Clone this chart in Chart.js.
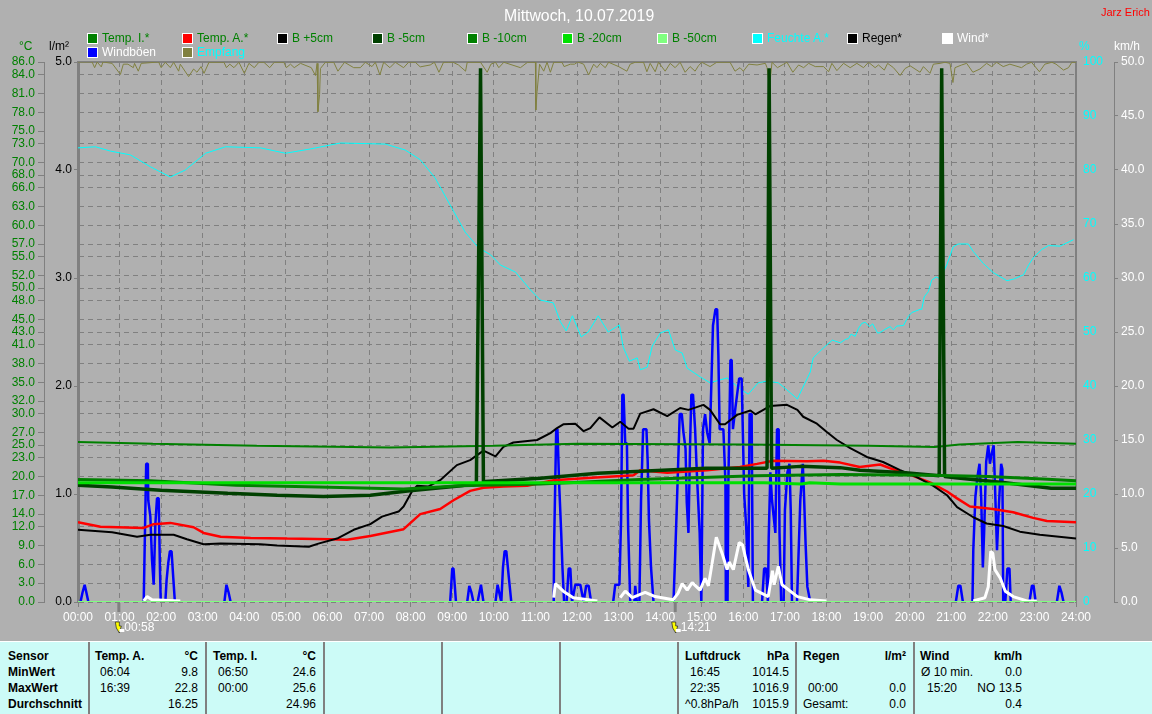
<!DOCTYPE html>
<html>
<head>
<meta charset="utf-8">
<title>Mittwoch, 10.07.2019</title>
<script src="https://cdn.jsdelivr.net/npm/chart.js@4"></script>
<style>
    html, body { margin: 0; padding: 0; width: 1152px; height: 714px; overflow: hidden; background: #b0b0b0; }
    body { font-family: "Liberation Sans", Arial, sans-serif; font-size: 12px; position: relative; }
    #myChart { position: absolute; left: 0; top: 0; }
    .txt { position: absolute; white-space: nowrap; line-height: 14px; }
    .box { position: absolute; width: 9px; height: 9px; border: 1px solid #fff; }
    #panel { position: absolute; left: 0; top: 641px; width: 1152px; height: 73px; background: #ccfbf7; border-top: 1px solid #fff; box-sizing: border-box; }
    #panel .sep { position: absolute; top: 0; width: 2px; height: 73px; background: #808080; }
    #panel .txt { color: #000; }
    #panel .r { transform: translateX(-100%); }
</style>
</head>
<body>
<canvas id="myChart" width="1152" height="642"></canvas>
<div id="panel"></div>
<script>
// axis labels
const celsiusTicks = [86, 84, 81, 78, 75, 73, 70, 68, 66, 63, 60, 57, 55, 52, 50, 48, 45, 43, 41, 38, 35, 32, 30, 27, 25, 23, 20, 17, 14, 12, 9, 6, 3, 0];
const sunTimes = [0.97, 14.35];
const sunLabels = ['00:58', '14:21'];

// legend
const legendNames = ['Temp. I.*', 'Temp. A.*', 'B +5cm', 'B -5cm', 'B -10cm', 'B -20cm', 'B -50cm', 'Feuchte A.*', 'Regen*', 'Wind*', 'Windböen', 'Empfang'];
const legendColors = ['#008000', '#ff0000', '#000000', '#004000', '#008000', '#00e000', '#80ff80', '#00ffff', '#000000', '#ffffff', '#0000ff', '#808040'];
const legendText = ['#008000', '#008000', '#008000', '#008000', '#008000', '#008000', '#008000', '#00ffff', '#000000', '#ffffff', '#ffffff', '#00ffff'];

// Temp. I. in degrees
const tempInT = [0, 1.8, 4.3, 7.5, 10, 12, 16, 19, 20.6, 21.2, 22.6, 24];
const tempInV = [25.5, 25.2, 24.9, 24.6, 24.9, 25.2, 25.1, 24.9, 24.7, 25.1, 25.5, 25.2];

// Temp. A. in degrees
const tempOutT = [0, 0.54, 1.58, 1.82, 2.22, 2.78, 3.02, 3.43, 4.15, 5.03, 6.07, 6.47, 7.03, 7.83, 8.23, 8.71, 9.03, 9.43, 9.75, 10.23, 10.8, 11.44, 12.16, 13.36, 13.52, 14.17, 15.12, 15.92, 16.33, 16.72, 17.53, 17.93, 18.33, 18.8, 19.29, 19.53, 20.08, 20.5, 20.9, 21.14, 21.45, 22.0, 22.49, 22.97, 23.3, 24];
const tempOutV = [12.7, 12.0, 11.8, 12.4, 12.6, 11.9, 11.0, 10.4, 10.2, 10.1, 10.0, 9.9, 10.5, 11.6, 14.0, 14.8, 16.2, 17.7, 18.2, 18.4, 18.5, 19.4, 19.7, 20.2, 21.0, 20.6, 21.0, 21.5, 22.0, 22.5, 22.4, 22.5, 22.2, 21.5, 21.9, 21.3, 20.1, 19.0, 17.6, 16.5, 15.2, 14.8, 14.3, 13.4, 12.9, 12.7];

// B +5cm
const soil5T = [0, 0.82, 1.42, 1.74, 2.3, 2.62, 3.02, 3.43, 4.39, 4.79, 5.55, 5.78, 6.23, 6.63, 7.03, 7.31, 7.71, 7.83, 8.03, 8.15, 8.43, 8.71, 9.11, 9.43, 9.75, 10.04, 10.23, 10.47, 11.04, 11.36, 11.52, 11.67, 11.96, 12.16, 12.32, 12.54, 12.85, 13.04, 13.24, 13.36, 13.52, 13.84, 14.17, 14.48, 14.68, 15.04, 15.2, 15.44, 15.56, 15.85, 16.17, 16.29, 16.64, 17.05, 17.3, 17.44, 17.77, 18.0, 18.25, 18.57, 18.97, 19.36, 19.77, 20.17, 20.57, 20.9, 21.14, 21.53, 21.85, 22.25, 22.65, 23.13, 24];
const soil5V = [11.5, 11.1, 10.4, 10.7, 10.7, 10.0, 9.2, 9.3, 9.2, 9.0, 8.8, 9.3, 10.1, 11.5, 12.4, 13.6, 14.4, 15.2, 17.6, 18.5, 18.4, 19.4, 21.8, 22.6, 24.1, 23.2, 24.7, 25.4, 25.8, 26.9, 27.7, 28.3, 28.4, 27.2, 27.7, 29.4, 27.8, 28.7, 27.6, 27.6, 30.0, 30.7, 29.6, 30.9, 30.6, 31.4, 30.6, 28.3, 28.3, 29.8, 30.5, 29.9, 31.2, 31.4, 30.6, 29.5, 28.4, 27.1, 25.8, 24.5, 23.1, 22.3, 21.0, 19.9, 18.5, 17.0, 15.1, 13.5, 12.5, 12.1, 11.2, 10.7, 10.1];

// B -5cm, with the three sensor spikes
const soilM5T = [0, 0.82, 1.99, 3.6, 4.79, 5.9, 7.03, 7.98, 9.22, 9.58, 9.68, 9.75, 9.8, 11.12, 12.5, 15.1, 16.57, 16.62, 16.68, 17.37, 18.33, 18.8, 19.9, 20.71, 20.77, 20.84, 21.1, 22.3, 23.4, 24];
const soilM5V = [18.6, 18.3, 17.8, 17.3, 17.0, 16.8, 17.0, 17.7, 18.5, 18.9, 85.0, 19.0, 19.2, 19.7, 20.5, 21.3, 21.3, 85.0, 21.3, 21.6, 21.4, 21.0, 20.6, 20.1, 85.0, 20.0, 19.8, 19.0, 18.1, 18.1];

// B -10cm, B -20cm
const soilM10T = [0, 1.74, 3.8, 5.8, 7.83, 9.2, 11.12, 13.5, 16.3, 18.33, 20.5, 21.9, 23.2, 24];
const soilM10V = [19.5, 19.3, 18.6, 18.3, 18.0, 18.5, 18.8, 19.5, 20.1, 20.3, 20.2, 20.0, 19.6, 19.3];
const soilM20T = [0, 11.12, 16.5, 17.4, 17.6, 18.33, 24];
const soilM20V = [19.0, 19.0, 19.0, 18.8, 19.0, 18.8, 18.8];

// B -50cm and Regen stay on the zero line
const flatT = [0, 24];
const soilM50V = [0, 0];
const rainV = [0, 0];

// Feuchte A. in percent
const humidityT = [0, 0.42, 0.78, 1.26, 1.74, 2.22, 2.58, 3.07, 3.55, 4.39, 4.99, 5.59, 6.31, 7.39, 7.87, 8.23, 8.59, 8.95, 9.31, 9.63, 9.92, 10.16, 10.52, 10.88, 11.12, 11.43, 11.6, 11.74, 11.89, 12.1, 12.27, 12.51, 12.75, 13.02, 13.11, 13.26, 13.45, 13.52, 13.69, 13.81, 14.0, 14.2, 14.36, 14.53, 14.65, 14.96, 15.2, 15.61, 15.93, 16.12, 16.36, 16.58, 16.84, 17.0, 17.3, 17.61, 17.68, 17.92, 18.14, 18.33, 18.45, 18.53, 18.59, 18.69, 18.77, 18.85, 18.93, 19.03, 19.11, 19.23, 19.29, 19.41, 19.53, 19.61, 19.69, 19.85, 19.97, 20.05, 20.25, 20.29, 20.35, 20.45, 20.53, 20.64, 20.73, 20.89, 21.05, 21.17, 21.41, 21.53, 21.77, 22.01, 22.34, 22.5, 22.74, 22.86, 22.98, 23.18, 23.34, 23.62, 23.78, 23.94];
const humidityV = [84.1, 84.3, 83.5, 82.8, 80.6, 78.7, 80.0, 83.1, 84.3, 84.1, 83.1, 83.9, 85.0, 84.8, 83.7, 81.9, 78.5, 73.5, 68.5, 65.6, 64.3, 62.4, 61.1, 57.8, 55.9, 55.4, 51.9, 50.2, 53.0, 49.1, 50.0, 53.0, 50.0, 51.3, 47.2, 44.6, 45.2, 43.0, 43.5, 47.4, 49.8, 50.4, 46.7, 46.1, 43.3, 41.7, 40.6, 41.5, 39.4, 38.5, 40.6, 40.9, 40.6, 39.6, 37.6, 42.6, 45.2, 47.0, 48.5, 48.0, 48.6, 48.8, 49.6, 49.2, 50.7, 51.6, 51.8, 51.0, 51.5, 49.8, 49.9, 50.5, 51.0, 50.4, 51.1, 51.2, 52.9, 53.6, 54.2, 54.2, 56.5, 57.5, 59.6, 60.2, 59.8, 62.4, 65.8, 66.3, 66.3, 64.9, 62.7, 61.0, 59.5, 59.8, 60.6, 62.4, 63.8, 65.3, 66.0, 65.9, 66.5, 67.1];

// Wind, gaps where the sensor reports nothing
const windT = [1.58, 1.66, 1.78, 2.46, 2.47, 11.44, 11.48, 11.67, 11.91, 12.49, 12.5, 13.04, 13.16, 13.33, 13.64, 13.88, 14.31, 14.43, 14.53, 14.65, 14.77, 14.96, 15.08, 15.16, 15.25, 15.35, 15.49, 15.61, 15.66, 15.76, 15.9, 15.98, 16.12, 16.29, 16.6, 16.7, 16.74, 16.84, 16.93, 17.3, 17.61, 18.0, 18.01, 21.53, 21.81, 21.89, 21.95, 22.0, 22.05, 22.18, 22.3, 22.49, 22.82, 23.06];
const windV = [0.1, 0.5, 0.2, 0.1, null, 0.4, 1.7, 1.0, 0.4, 0.1, null, 0.4, 1.0, 0.4, 0.9, 0.5, 0.2, 0.8, 1.7, 1.1, 1.8, 1.1, 2.2, 1.5, 3.6, 6.0, 4.5, 3.0, 3.7, 3.0, 5.5, 5.3, 3.0, 1.1, 0.5, 2.9, 1.6, 3.3, 1.6, 0.5, 0.2, 0.1, null, 0.1, 0.4, 1.4, 4.7, 4.5, 3.0, 2.2, 1.0, 0.5, 0.1, 0.1];

// Windböen
const gustT = [0.06, 0.11, 0.16, 0.20, 0.25, 1.58, 1.60, 1.64, 1.68, 1.69, 1.74, 1.78, 1.82, 1.86, 1.90, 1.94, 1.97, 1.99, 2.10, 2.13, 2.17, 2.21, 2.25, 2.29, 2.33, 3.52, 3.57, 3.62, 3.67, 8.95, 9.0, 9.03, 9.09, 9.36, 9.41, 9.46, 9.51, 9.61, 9.69, 9.75, 10.04, 10.09, 10.14, 10.18, 10.22, 10.26, 10.30, 10.36, 10.42, 11.44, 11.45, 11.50, 11.53, 11.57, 11.62, 11.65, 11.69, 11.75, 11.80, 11.84, 11.88, 11.96, 12.08, 12.16, 12.22, 12.28, 12.34, 12.87, 12.92, 13.02, 13.06, 13.09, 13.12, 13.16, 13.20, 13.23, 13.28, 13.38, 13.40, 13.44, 13.50, 13.54, 13.59, 13.67, 13.70, 13.73, 13.78, 13.84, 14.32, 14.36, 14.40, 14.47, 14.52, 14.56, 14.61, 14.64, 14.68, 14.72, 14.75, 14.79, 14.84, 14.88, 14.95, 14.99, 15.03, 15.08, 15.13, 15.19, 15.23, 15.27, 15.33, 15.37, 15.40, 15.43, 15.52, 15.57, 15.58, 15.62, 15.64, 15.69, 15.72, 15.75, 15.81, 15.85, 15.90, 15.96, 15.99, 16.02, 16.07, 16.12, 16.15, 16.20, 16.23, 16.26, 16.45, 16.50, 16.55, 16.59, 16.61, 16.65, 16.69, 16.73, 16.77, 16.81, 16.85, 16.87, 16.91, 16.97, 17.0, 17.06, 17.11, 17.14, 17.17, 17.29, 17.37, 17.43, 17.46, 17.50, 17.54, 17.61, 21.11, 21.17, 21.22, 21.28, 21.51, 21.53, 21.58, 21.63, 21.68, 21.72, 21.76, 21.79, 21.84, 21.89, 21.93, 21.97, 22.02, 22.05, 22.10, 22.15, 22.20, 22.23, 22.25, 22.30, 22.35, 22.40, 22.43, 22.88, 22.94, 22.98, 23.03, 23.54, 23.60, 23.65, 23.70];
const gustV = [0, 0.9, 1.6, 0.9, 0, 0, 4.3, 12.8, 12.8, 9.4, 7.9, 3.9, 1.6, 7.2, 9.6, 9.6, 3.2, 0, 0, 2.0, 3.6, 4.7, 4.7, 2.3, 0, 0, 1.6, 0.9, 0, 0, 3.1, 3.1, 0, 0, 1.5, 0.9, 0, 0, 1.6, 0, 0, 1.6, 0.7, 0, 3.2, 4.7, 4.7, 2.3, 0, 0, 5.4, 16.0, 16.0, 11.0, 6.4, 3.2, 0, 0, 3.1, 3.1, 0, 1.6, 1.6, 0, 1.5, 1.5, 0, 0, 1.6, 1.6, 7.6, 19.2, 19.2, 14.7, 14.7, 6.9, 0, 0, 1.5, 0, 0, 9.4, 16.0, 16.0, 13.0, 7.6, 3.2, 0, 0, 4.2, 8.8, 17.4, 17.4, 15.7, 14.2, 9.2, 6.4, 14.7, 19.2, 19.2, 16.0, 12.1, 6.4, 0, 16.0, 17.4, 15.7, 14.7, 20.0, 25.6, 27.1, 27.1, 22.8, 16.0, 16.0, 11.0, 0, 0, 11.0, 22.4, 22.4, 16.0, 18.0, 19.2, 20.7, 20.7, 15.5, 10.0, 6.9, 1.4, 17.4, 17.4, 0, 0, 0, 3.1, 3.1, 0, 5.9, 12.0, 9.4, 7.9, 6.4, 16.0, 16.0, 6.4, 0, 0, 8.5, 12.0, 12.8, 8.5, 0, 0, 9.4, 12.8, 9.8, 5.1, 1.4, 0, 0, 1.5, 1.5, 0, 0, 4.8, 9.7, 11.6, 12.8, 9.7, 3.2, 6.4, 13.0, 14.5, 12.8, 13.7, 14.5, 11.0, 4.8, 9.3, 12.8, 12.3, 0, 0, 3.1, 3.1, 0, 0, 1.5, 1.5, 0, 0, 1.5, 0.9, 0];

// Empfang in percent
const signalT = [0, 0.34, 0.40, 0.46, 0.56, 0.60, 0.82, 1.02, 1.09, 1.20, 1.33, 1.36, 1.45, 1.52, 1.94, 2.0, 2.10, 2.22, 2.30, 2.42, 2.46, 2.66, 2.78, 2.86, 2.96, 3.03, 3.15, 3.51, 3.57, 3.65, 3.75, 3.87, 4.0, 4.11, 4.24, 4.35, 4.47, 4.61, 4.72, 4.95, 5.01, 5.11, 5.20, 5.35, 5.61, 5.71, 5.75, 5.77, 5.81, 5.83, 5.95, 6.15, 6.25, 6.41, 6.63, 6.79, 6.91, 7.07, 7.15, 7.26, 7.35, 7.50, 7.63, 7.83, 7.95, 8.11, 8.23, 8.47, 8.57, 8.68, 8.79, 8.91, 9.02, 9.15, 9.32, 9.36, 9.68, 9.84, 9.93, 10.04, 10.12, 10.24, 10.64, 10.81, 11.0, 11.01, 11.04, 11.10, 11.20, 11.28, 11.36, 11.44, 11.64, 11.69, 11.84, 11.94, 12.02, 12.16, 12.28, 12.40, 12.48, 12.56, 12.68, 12.76, 13.0, 13.20, 13.28, 13.40, 13.60, 13.68, 13.76, 13.88, 13.96, 14.12, 14.24, 14.36, 14.48, 14.60, 14.72, 14.84, 14.92, 15.0, 15.20, 15.36, 15.68, 15.80, 15.92, 16.0, 16.13, 16.33, 16.53, 16.57, 16.63, 16.69, 16.82, 16.97, 17.05, 17.19, 17.33, 17.45, 17.57, 17.73, 17.93, 18.05, 18.13, 18.25, 18.41, 18.57, 18.73, 18.89, 19.01, 19.17, 19.25, 19.39, 19.47, 19.61, 19.77, 19.89, 20.01, 20.25, 20.33, 20.49, 20.57, 20.73, 20.85, 20.97, 21.04, 21.09, 21.25, 21.37, 21.52, 21.69, 21.85, 21.97, 22.09, 22.25, 22.41, 22.69, 22.81, 22.93, 23.12, 23.25, 23.42, 23.52, 23.70, 23.82, 23.90, 24];
const signalV = [100, 100, 98.95, 100, 99.1, 100, 99.75, 97.7, 99.6, 99.6, 98.95, 99.75, 98.3, 99.75, 100, 98.95, 99.95, 98.95, 99.95, 98.3, 99.6, 97.3, 98.7, 98.1, 99.15, 97.9, 99.95, 99.95, 98.95, 99.6, 98.95, 99.95, 97.9, 99.75, 98.95, 99.95, 99.95, 98.95, 99.95, 99.95, 98.95, 99.6, 98.95, 99.75, 98.95, 97.5, 99.75, 90.8, 94.0, 98.8, 99.95, 99.95, 98.3, 99.95, 98.95, 98.95, 99.95, 99.15, 99.95, 97.6, 99.95, 98.95, 99.95, 98.95, 99.95, 99.95, 99.1, 99.45, 99.95, 98.1, 99.95, 99.95, 99.95, 99.45, 98.3, 99.95, 99.95, 98.1, 99.6, 99.95, 98.95, 99.95, 98.95, 99.95, 99.95, 91.1, 94.5, 99.6, 98.3, 99.95, 98.1, 99.95, 99.95, 99.15, 99.6, 99.6, 100, 99.6, 97.6, 99.6, 98.95, 99.75, 98.95, 99.95, 99.15, 98.3, 99.6, 99.95, 99.95, 98.2, 99.75, 98.2, 99.95, 98.3, 99.75, 98.95, 99.95, 98.1, 99.15, 98.3, 99.3, 99.95, 99.15, 99.95, 99.95, 98.3, 98.95, 98.3, 99.6, 99.45, 99.75, 98.95, 95.4, 99.95, 98.95, 99.6, 99.95, 98.1, 99.45, 98.95, 99.75, 99.15, 99.15, 98.2, 99.75, 98.4, 99.75, 98.95, 99.75, 98.95, 99.95, 98.95, 99.45, 98.5, 99.75, 98.95, 97.5, 98.8, 99.3, 98.1, 99.15, 97.9, 99.6, 99.75, 99.95, 99.75, 96.2, 98.95, 99.45, 99.75, 98.1, 98.7, 99.75, 99.15, 99.95, 99.15, 99.6, 98.95, 99.6, 99.95, 98.2, 99.6, 99.95, 99.6, 98.5, 98.95, 99.95, 99.95];

// bottom table: x of column, text, bold, right aligned
const sepX = [88, 205, 323, 441, 559, 677, 795, 913];
const rowY = [649, 665, 681, 697];
const tableCells = [
    [8, 0, 'Sensor', 1, 0], [8, 1, 'MinWert', 1, 0], [8, 2, 'MaxWert', 1, 0], [8, 3, 'Durchschnitt', 1, 0],
    [95, 0, 'Temp. A.', 1, 0], [198, 0, '°C', 1, 1], [100, 1, '06:04', 0, 0], [198, 1, '9.8', 0, 1], [100, 2, '16:39', 0, 0], [198, 2, '22.8', 0, 1], [198, 3, '16.25', 0, 1],
    [213, 0, 'Temp. I.', 1, 0], [316, 0, '°C', 1, 1], [218, 1, '06:50', 0, 0], [316, 1, '24.6', 0, 1], [218, 2, '00:00', 0, 0], [316, 2, '25.6', 0, 1], [316, 3, '24.96', 0, 1],
    [685, 0, 'Luftdruck', 1, 0], [789, 0, 'hPa', 1, 1], [690, 1, '16:45', 0, 0], [789, 1, '1014.5', 0, 1], [690, 2, '22:35', 0, 0], [789, 2, '1016.9', 0, 1], [685, 3, '^0.8hPa/h', 0, 0], [789, 3, '1015.9', 0, 1],
    [803, 0, 'Regen', 1, 0], [906, 0, 'l/m²', 1, 1], [808, 2, '00:00', 0, 0], [906, 2, '0.0', 0, 1], [803, 3, 'Gesamt:', 0, 0], [906, 3, '0.0', 0, 1],
    [920, 0, 'Wind', 1, 0], [1022, 0, 'km/h', 1, 1], [921, 1, 'Ø 10 min.', 0, 0], [1022, 1, '0.0', 0, 1], [927, 2, '15:20', 0, 0], [1022, 2, 'NO 13.5', 0, 1], [1022, 3, '0.4', 0, 1]
];

function addText(parent, x, y, text, color, extra) {
    const el = document.createElement('div');
    el.className = 'txt';
    el.style.left = x + 'px';
    el.style.top = y + 'px';
    if (color) el.style.color = color;
    el.textContent = text;
    if (extra) el.style.cssText += extra;
    parent.appendChild(el);
    return el;
}

// heading and axis units
addText(document.body, 504, 7, 'Mittwoch, 10.07.2019', '#ffffff', 'font-size:15.8px;line-height:18px;');
addText(document.body, 1101, 5, 'Jarz Erich', '#ff0000', 'font-size:11px;');
addText(document.body, 19, 39, '°C', '#008000');
addText(document.body, 49, 39, 'l/m²', '#000000');
addText(document.body, 1079, 39, '%', '#00ffff');
addText(document.body, 1114, 39, 'km/h', '#ffffff');

// legend, ten in the first row
legendNames.forEach((name, i) => {
    const x = 87 + (i % 10) * 95;
    const y = i < 10 ? 33 : 47;
    const box = document.createElement('div');
    box.className = 'box';
    box.style.left = x + 'px';
    box.style.top = y + 'px';
    box.style.background = legendColors[i];
    document.body.appendChild(box);
    addText(document.body, x + 15, y - 2, name, legendText[i]);
});

// table
const panel = document.getElementById('panel');
sepX.forEach(x => {
    const s = document.createElement('div');
    s.className = 'sep';
    s.style.left = x + 'px';
    panel.appendChild(s);
});
tableCells.forEach(c => {
    const el = addText(panel, c[0], rowY[c[1]] - 642, c[2]);
    if (c[3]) el.style.fontWeight = 'bold';
    if (c[4]) el.classList.add('r');
});

function pts(times, values) {
    return times.map((t, i) => ({ x: t, y: values[i] }));
}

// no line along the floor between two gusts
function burstPts(times, values) {
    const out = [];
    times.forEach((t, i) => {
        out.push({ x: t, y: values[i] });
        if (values[i] === 0 && values[i + 1] === 0) out.push({ x: t, y: null });
    });
    return out;
}

function lineSet(label, data, color, width, axis) {
    return {
        label: label,
        data: data,
        borderColor: color,
        backgroundColor: color,
        borderWidth: width,
        borderJoinStyle: 'bevel',
        pointRadius: 0,
        tension: 0,
        spanGaps: false,
        yAxisID: axis
    };
}

// frame of the plot and the sun marks below the time axis
const framePlugin = {
    id: 'framePlugin',
    beforeDatasetsDraw(chart) {
        const a = chart.chartArea;
        const ctx = chart.ctx;
        ctx.save();
        ctx.strokeStyle = '#808080';
        ctx.lineWidth = 2;
        ctx.beginPath();
        ctx.moveTo(a.left, a.top);
        ctx.lineTo(a.right, a.top);
        ctx.stroke();
        ctx.restore();
    },
    afterDraw(chart) {
        const ctx = chart.ctx;
        const xs = chart.scales.x;
        ctx.save();
        sunTimes.forEach((t, i) => {
            const x = xs.getPixelForValue(t);
            ctx.fillStyle = '#808080';
            ctx.fillRect(x - 1, 603, 3, 9);
            ctx.fillStyle = '#ffff00';
            ctx.strokeStyle = '#202020';
            ctx.lineWidth = 0.7;
            ctx.beginPath();
            ctx.moveTo(x - 3, 622);
            ctx.lineTo(x + 1, 622);
            ctx.lineTo(x + 1, 626);
            ctx.lineTo(x + 3, 626);
            ctx.lineTo(x + 1, 633);
            ctx.lineTo(x - 2, 628);
            ctx.closePath();
            ctx.fill();
            ctx.stroke();
            ctx.fillStyle = '#ffffff';
            ctx.fillRect(x + 1, 629, 5, 3);
            ctx.font = '12px "Liberation Sans", Arial, sans-serif';
            ctx.textBaseline = 'middle';
            ctx.fillText(sunLabels[i], x + 6, 628);
        });
        ctx.restore();
    }
};

new Chart(document.getElementById('myChart').getContext('2d'), {
    type: 'line',
    data: {
        // first dataset ends up on top
        datasets: [
            lineSet('B -50cm', pts(flatT, soilM50V), '#80ff80', 2, 'yCelsius'),
            lineSet('B -20cm', pts(soilM20T, soilM20V), '#00e000', 3, 'yCelsius'),
            lineSet('B -10cm', pts(soilM10T, soilM10V), '#008000', 3, 'yCelsius'),
            lineSet('B -5cm', pts(soilM5T, soilM5V), '#004000', 3.5, 'yCelsius'),
            lineSet('Temp. I.', pts(tempInT, tempInV), '#008000', 2, 'yCelsius'),
            lineSet('B +5cm', pts(soil5T, soil5V), '#000000', 2, 'yCelsius'),
            lineSet('Temp. A.', pts(tempOutT, tempOutV), '#ff0000', 2.5, 'yCelsius'),
            lineSet('Wind', pts(windT, windV), '#ffffff', 3, 'yKmh'),
            lineSet('Windböen', burstPts(gustT, gustV), '#0000ff', 2.5, 'yKmh'),
            lineSet('Feuchte A.', pts(humidityT, humidityV), '#00ffff', 1, 'yPercent'),
            lineSet('Regen', pts(flatT, rainV), '#000000', 2, 'yRain'),
            lineSet('Empfang', pts(signalT, signalV), '#808040', 1, 'yPercent')
        ]
    },
    options: {
        responsive: false,
        animation: false,
        events: [],
        layout: { padding: { top: 62, left: 0, right: 0, bottom: 0 } },
        plugins: { legend: { display: false }, tooltip: { enabled: false }, title: { display: false } },
        scales: {
            x: {
                type: 'linear',
                min: 0,
                max: 24,
                afterFit(scale) { scale.height = 40; },
                grid: { color: '#808080', tickLength: 5, lineWidth: 1, tickColor: '#808080' },
                border: { display: false, dash: [5, 4] },
                ticks: {
                    stepSize: 1,
                    autoSkip: false,
                    maxRotation: 0,
                    padding: 3,
                    color: '#ffffff',
                    font: { family: '"Liberation Sans", Arial, sans-serif', size: 12 },
                    callback: v => String(v).padStart(2, '0') + ':00'
                }
            },
            yCelsius: {
                position: 'left',
                weight: 2,
                min: 0,
                max: 86,
                afterFit(scale) { scale.width = 44; },
                afterBuildTicks(scale) { scale.ticks = celsiusTicks.map(v => ({ value: v })); },
                grid: { color: '#808080', tickLength: 6, lineWidth: 1, tickColor: '#808080' },
                border: { display: true, color: '#808080', width: 1, dash: [5, 4] },
                ticks: {
                    autoSkip: false,
                    padding: 3,
                    color: '#008000',
                    font: { family: '"Liberation Sans", Arial, sans-serif', size: 12 },
                    callback: v => v.toFixed(1)
                }
            },
            yRain: {
                position: 'left',
                weight: 1,
                min: 0,
                max: 5,
                afterFit(scale) { scale.width = 34; },
                grid: { drawOnChartArea: false, tickLength: 4, tickColor: '#808080' },
                border: { display: true, color: '#808080', width: 3 },
                ticks: {
                    stepSize: 1,
                    padding: 2,
                    color: '#000000',
                    font: { family: '"Liberation Sans", Arial, sans-serif', size: 12 },
                    callback: v => v.toFixed(1)
                }
            },
            yPercent: {
                position: 'right',
                weight: 1,
                min: 0,
                max: 100,
                afterFit(scale) { scale.width = 38; },
                grid: { drawOnChartArea: false, drawTicks: false },
                border: { display: true, color: '#808080', width: 2 },
                ticks: {
                    stepSize: 10,
                    padding: 7,
                    color: '#00ffff',
                    font: { family: '"Liberation Sans", Arial, sans-serif', size: 12 }
                }
            },
            yKmh: {
                position: 'right',
                weight: 2,
                min: 0,
                max: 50,
                afterFit(scale) { scale.width = 38; },
                grid: { drawOnChartArea: false, tickLength: 4, tickColor: '#808080' },
                border: { display: true, color: '#808080', width: 1 },
                ticks: {
                    stepSize: 5,
                    padding: 3,
                    color: '#ffffff',
                    font: { family: '"Liberation Sans", Arial, sans-serif', size: 12 },
                    callback: v => v.toFixed(1)
                }
            }
        }
    },
    plugins: [framePlugin]
});
</script>
</body>
</html>
